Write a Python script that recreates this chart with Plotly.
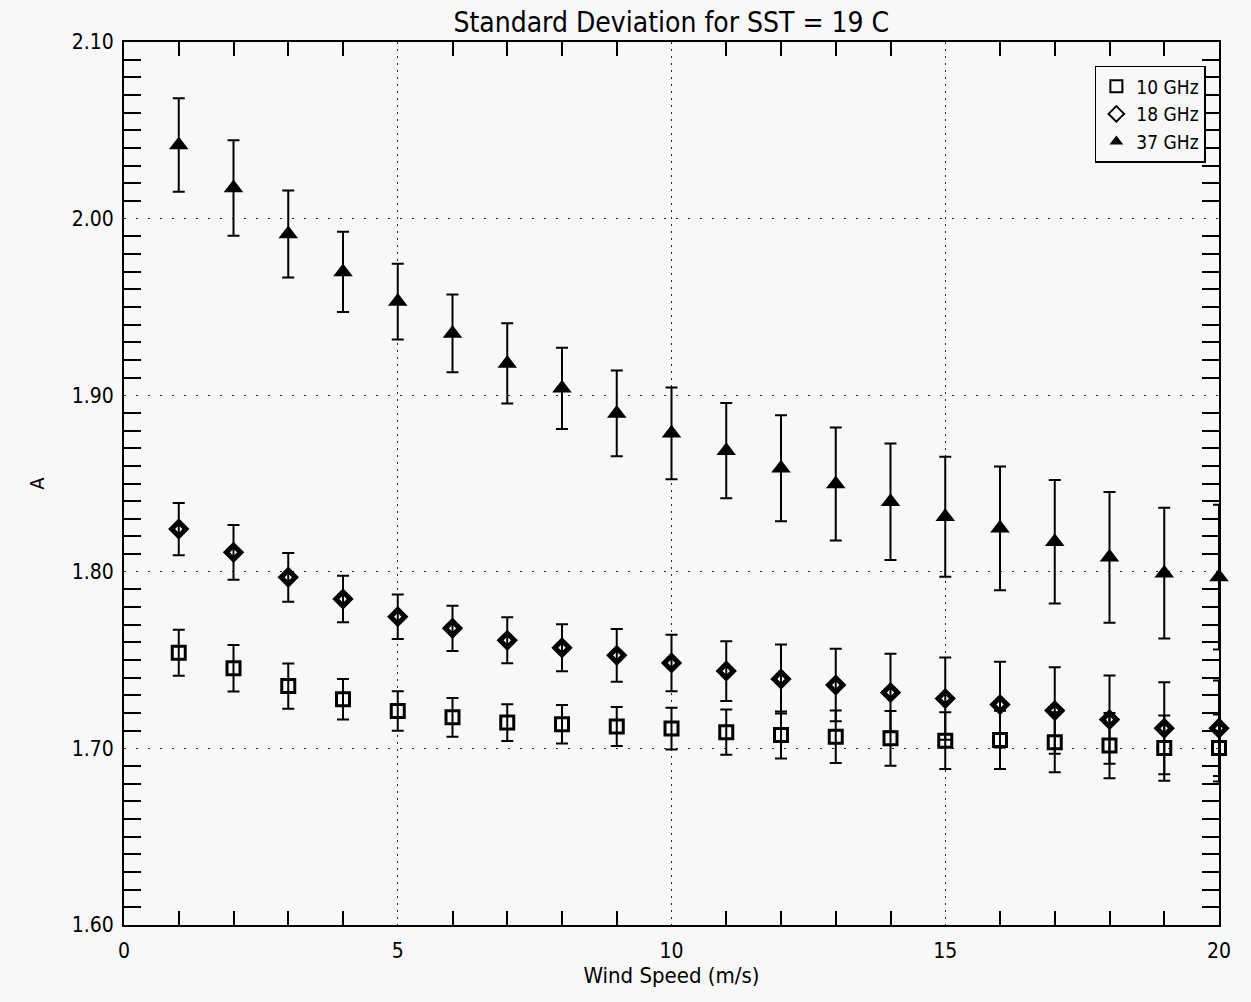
import plotly.graph_objects as go

wind = list(range(1, 21))

a10 = [1.7542, 1.7454, 1.7353, 1.7278, 1.7212, 1.7176, 1.7146, 1.7137, 1.7124, 1.7112,
       1.7092, 1.7076, 1.7066, 1.7057, 1.7044, 1.7048, 1.7035, 1.7016, 1.7002, 1.7002]
e10 = [0.013, 0.0132, 0.0128, 0.0115, 0.0112, 0.011, 0.0104, 0.0109, 0.011, 0.0118,
       0.0128, 0.0133, 0.0148, 0.0155, 0.016, 0.0165, 0.017, 0.0185, 0.0185, 0.019]

a18 = [1.8242, 1.811, 1.7969, 1.7846, 1.7746, 1.768, 1.7612, 1.757, 1.7527, 1.7484,
       1.7438, 1.7393, 1.7359, 1.7316, 1.7282, 1.7248, 1.7214, 1.7163, 1.7114, 1.7114]
e18 = [0.0148, 0.0155, 0.0138, 0.0132, 0.0126, 0.0128, 0.013, 0.0133, 0.0149, 0.016,
       0.0169, 0.0195, 0.0205, 0.022, 0.0233, 0.0243, 0.0245, 0.025, 0.026, 0.027]

a37 = [2.0417, 2.0173, 1.9913, 1.9698, 1.953, 1.935, 1.918, 1.9039, 1.8897, 1.8784,
       1.8686, 1.8586, 1.8497, 1.8397, 1.8312, 1.8246, 1.817, 1.8082, 1.7992, 1.797]
e37 = [0.0265, 0.027, 0.0246, 0.0227, 0.0214, 0.022, 0.0227, 0.023, 0.0243, 0.026,
       0.027, 0.030, 0.032, 0.033, 0.034, 0.035, 0.035, 0.037, 0.037, 0.041]

series = [
    ("10 GHz", a10, e10, dict(symbol="square-open", size=13, color="black", line=dict(width=3, color="black"))),
    ("18 GHz", a18, e18, dict(symbol="diamond-open", size=11, color="black", line=dict(width=5, color="black"))),
    ("37 GHz", a37, e37, dict(symbol="triangle-up", size=17, color="black", line=dict(width=0))),
]

FONT = "Liberation Sans Narrow, DejaVu Sans Condensed, Arial Narrow, DejaVu Sans, sans-serif"

fig = go.Figure()
for name, y, e, mk in series:
    fig.add_trace(go.Scatter(
        x=wind, y=y, mode="markers", name=name, marker=mk, cliponaxis=False,
        error_y=dict(type="data", array=e, visible=True, color="black", thickness=2, width=6),
    ))

axis_common = dict(
    showline=True, linewidth=2, linecolor="black", mirror="allticks",
    showgrid=True, gridcolor="#222222", gridwidth=1,
    ticks="", zeroline=False,
    tickfont=dict(family=FONT, size=21, color="black"),
)

fig.update_xaxes(
    **axis_common, range=[0, 20], dtick=5, tick0=0, griddash="2px,5px",
    ticklabelstandoff=6,
    minor=dict(dtick=1, ticks="inside", ticklen=14, tickwidth=2, tickcolor="black", showgrid=False),
    title=dict(text="Wind Speed (m/s)", font=dict(family=FONT, size=22, color="black"), standoff=4),
)
fig.update_yaxes(
    **axis_common, range=[1.60, 2.10], dtick=0.1, tick0=1.6, tickformat=".2f", griddash="2px,10px",
    ticklabelstandoff=4,
    minor=dict(dtick=0.01, ticks="inside", ticklen=17, tickwidth=2, tickcolor="black", showgrid=False),
    title=dict(text="A", font=dict(family=FONT, size=20, color="black"), standoff=22),
)

fig.update_layout(
    width=1251, height=1002,
    margin=dict(l=124, r=32, t=42, b=77),
    paper_bgcolor="#f8f8f8", plot_bgcolor="#f8f8f8",
    title=dict(text="Standard Deviation for SST = 19 C", x=0.5366, xanchor="center",
               y=0.978, yanchor="middle", font=dict(family=FONT, size=28, color="black")),
    font=dict(family=FONT, color="black"),
    legend=dict(x=0.988, xanchor="right", y=0.973, yanchor="top",
                bgcolor="#f8f8f8", bordercolor="black", borderwidth=1.5,
                font=dict(family=FONT, size=19, color="black"),
                tracegroupgap=0, itemsizing="constant"),
    showlegend=True,
)

fig.write_html("out.html")
